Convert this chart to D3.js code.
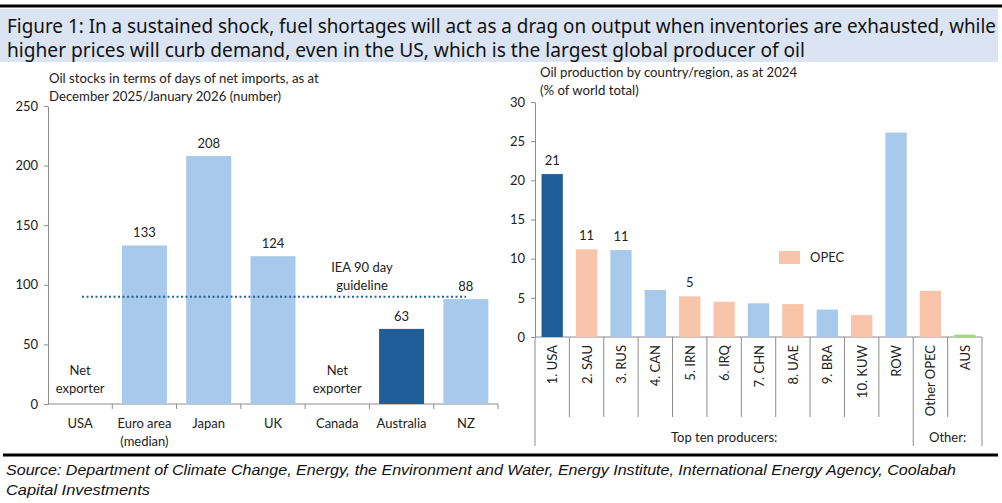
<!DOCTYPE html>
<html>
<head>
<meta charset="utf-8">
<script src="https://d3js.org/d3.v7.min.js"></script>
<style>
  body { margin: 0; background: #fff; }
  text { font-family: Lato, "Open Sans", sans-serif; fill: #222; }
</style>
</head>
<body>
<div id="chart"></div>
<script>
// Left panel: oil stocks in days of net imports
const stockCats = ["USA", "Euro area|(median)", "Japan", "UK", "Canada", "Australia", "NZ"];
const stockValues = [null, 133, 208, 124, null, 63, 88];
const stockKind = ["none", "light", "light", "light", "none", "dark", "light"];
const stockTicks = [0, 50, 100, 150, 200, 250];
const ieaGuideline = 90;

// Right panel: oil production share of world total
const prodCats = ["1. USA", "2. SAU", "3. RUS", "4. CAN", "5. IRN", "6. IRQ", "7. CHN", "8. UAE", "9. BRA", "10. KUW", "ROW", "Other OPEC", "AUS"];
const prodValues = [20.8, 11.2, 11.1, 6.0, 5.2, 4.5, 4.3, 4.2, 3.5, 2.8, 26.1, 5.9, 0.3];
const prodKind = ["dark", "opec", "light", "light", "opec", "opec", "light", "opec", "light", "opec", "light", "opec", "green"];
const prodLabels = ["21", "11", "11", null, "5", null, null, null, null, null, null, null, null];
const prodTicks = [0, 5, 10, 15, 20, 25, 30];
const prodGroups = [{ name: "Top ten producers:", from: 0, to: 11 }, { name: "Other:", from: 11, to: 13 }];

const colors = { light: "#a7c9eb", dark: "#215d99", opec: "#f8c5aa", green: "#9fd67f" };

const svg = d3.select("#chart").append("svg")
    .attr("width", 1002).attr("height", 503);

//Title band
svg.append("rect").attr("x", 0).attr("y", 9).attr("width", 998).attr("height", 53).attr("fill", "#dbe4f3");
svg.append("line").attr("x1", 0).attr("x2", 1002).attr("y1", 6).attr("y2", 6).attr("stroke", "#000").attr("stroke-width", 3);
const titleLines = ["Figure 1: In a sustained shock, fuel shortages will act as a drag on output when inventories are exhausted, while",
                    "higher prices will curb demand, even in the US, which is the largest global producer of oil"];
const titleWidths = [989, 798];
titleLines.forEach((t, i) => {
    svg.append("text").attr("x", 7).attr("y", 33 + i * 24).text(t)
        .attr("textLength", titleWidths[i]).attr("lengthAdjust", "spacingAndGlyphs")
        .style("font-family", "'Noto Sans', sans-serif").style("font-size", "19px").style("fill", "#111");
});

//Bottom rule and source
svg.append("line").attr("x1", 3).attr("x2", 998).attr("y1", 455).attr("y2", 455).attr("stroke", "#000").attr("stroke-width", 3);
const sourceLines = ["Source: Department of Climate Change, Energy, the Environment and Water, Energy Institute, International Energy Agency, Coolabah",
                     "Capital Investments"];
const sourceWidths = [950, 144];
sourceLines.forEach((t, i) => {
    svg.append("text").attr("x", 6).attr("y", 475 + i * 20).text(t)
        .attr("textLength", sourceWidths[i]).attr("lengthAdjust", "spacingAndGlyphs")
        .style("font-family", "'Liberation Sans Narrow', 'Liberation Sans', sans-serif")
        .style("font-style", "italic").style("font-size", "15.5px").style("fill", "#111");
});

const axisGrey = "#8c8c8c";

// ---------- Left panel ----------
const xL = d3.scaleBand().domain(stockCats).range([48, 498]);
const yL = d3.scaleLinear().domain([0, 250]).range([404, 106]);

svg.append("text").attr("x", 49).attr("y", 83).text("Oil stocks in terms of days of net imports, as at").style("font-size", "13.2px");
svg.append("text").attr("x", 49).attr("y", 101).text("December 2025/January 2026 (number)").style("font-size", "13.2px");

const yAxisL = svg.append("g").attr("transform", "translate(48,0)")
    .call(d3.axisLeft(yL).tickValues(stockTicks).tickSize(4).tickSizeOuter(0));
yAxisL.selectAll("text").style("font-size", "13px").attr("x", -10);

// x axis line and boundary ticks
svg.append("line").attr("x1", 48).attr("x2", 498).attr("y1", yL(0)).attr("y2", yL(0)).attr("stroke", axisGrey);
svg.selectAll(".tickL").data(stockCats).enter().append("line")
    .attr("x1", d => xL(d) + xL.bandwidth()).attr("x2", d => xL(d) + xL.bandwidth())
    .attr("y1", yL(0)).attr("y2", yL(0) + 5).attr("stroke", axisGrey);

const barW = xL.bandwidth() * 0.7;
const stockData = stockCats.map((c, i) => ({ c, v: stockValues[i], k: stockKind[i] })).filter(d => d.v !== null);
svg.selectAll(".barL").data(stockData).enter().append("rect")
    .attr("x", d => xL(d.c) + (xL.bandwidth() - barW) / 2)
    .attr("y", d => yL(d.v))
    .attr("width", barW)
    .attr("height", d => yL(0) - yL(d.v))
    .attr("fill", d => colors[d.k]);
svg.selectAll(".lblL").data(stockData).enter().append("text")
    .attr("x", d => xL(d.c) + xL.bandwidth() / 2)
    .attr("y", d => yL(d.v) - 8)
    .attr("text-anchor", "middle").style("font-size", "13px").text(d => d.v);

// category labels
stockCats.forEach(c => {
    c.split("|").forEach((t, j) => {
        svg.append("text").attr("x", xL(c) + xL.bandwidth() / 2).attr("y", 428 + j * 18)
            .attr("text-anchor", "middle").style("font-size", "13px").text(t);
    });
});

// net exporter notes
stockCats.forEach((c, i) => {
    if (stockValues[i] === null) {
        ["Net", "exporter"].forEach((t, j) => {
            svg.append("text").attr("x", xL(c) + xL.bandwidth() / 2).attr("y", 375 + j * 18)
                .attr("text-anchor", "middle").style("font-size", "13px").text(t);
        });
    }
});

// IEA guideline
svg.append("line").attr("x1", 82).attr("x2", 466).attr("y1", yL(ieaGuideline)).attr("y2", yL(ieaGuideline))
    .attr("stroke", "#24609e").attr("stroke-width", 2).attr("stroke-dasharray", "2,2.5");
svg.append("text").attr("x", 362).attr("y", 272).attr("text-anchor", "middle").style("font-size", "13px").text("IEA 90 day");
svg.append("text").attr("x", 362).attr("y", 290).attr("text-anchor", "middle").style("font-size", "13px").text("guideline");

// ---------- Right panel ----------
const xR = d3.scaleBand().domain(prodCats).range([535, 982]);
const yR = d3.scaleLinear().domain([0, 30]).range([337, 102]);

svg.append("text").attr("x", 540).attr("y", 77).text("Oil production by country/region, as at 2024").style("font-size", "13.2px");
svg.append("text").attr("x", 540).attr("y", 95).text("(% of world total)").style("font-size", "13.2px");

const yAxisR = svg.append("g").attr("transform", "translate(535,0)")
    .call(d3.axisLeft(yR).tickValues(prodTicks).tickSize(4).tickSizeOuter(0));
yAxisR.selectAll("text").style("font-size", "13px").attr("x", -10);

svg.append("line").attr("x1", 535).attr("x2", 982).attr("y1", yR(0)).attr("y2", yR(0)).attr("stroke", axisGrey);

// category boundaries: short inside groups, long at group edges
const groupEdges = new Set(prodGroups.flatMap(g => [g.from, g.to]));
d3.range(prodCats.length + 1).forEach(i => {
    const xx = i < prodCats.length ? xR(prodCats[i]) : xR(prodCats[i - 1]) + xR.bandwidth();
    svg.append("line").attr("x1", xx).attr("x2", xx)
        .attr("y1", yR(0)).attr("y2", groupEdges.has(i) ? 446 : 417)
        .attr("stroke", axisGrey);
});

const barWR = xR.bandwidth() * 0.62;
const prodData = prodCats.map((c, i) => ({ c, v: prodValues[i], k: prodKind[i], l: prodLabels[i] }));
svg.selectAll(".barR").data(prodData).enter().append("rect")
    .attr("x", d => xR(d.c) + (xR.bandwidth() - barWR) / 2)
    .attr("y", d => yR(d.v))
    .attr("width", barWR)
    .attr("height", d => yR(0) - yR(d.v))
    .attr("fill", d => colors[d.k]);
svg.selectAll(".lblR").data(prodData.filter(d => d.l)).enter().append("text")
    .attr("x", d => xR(d.c) + xR.bandwidth() / 2)
    .attr("y", d => yR(d.v) - 9)
    .attr("text-anchor", "middle").style("font-size", "13px").text(d => d.l);

// rotated category labels
svg.selectAll(".catR").data(prodCats).enter().append("text")
    .attr("transform", d => `translate(${xR(d) + xR.bandwidth() / 2 + 5},345) rotate(-90)`)
    .attr("text-anchor", "end").style("font-size", "13px").text(d => d);

// group labels
prodGroups.forEach(g => {
    const x0 = xR(prodCats[g.from]);
    const x1 = xR(prodCats[g.to - 1]) + xR.bandwidth();
    svg.append("text").attr("x", (x0 + x1) / 2).attr("y", 442)
        .attr("text-anchor", "middle").style("font-size", "13px").text(g.name);
});

// legend
svg.append("rect").attr("x", 779).attr("y", 251).attr("width", 21).attr("height", 13).attr("fill", colors.opec);
svg.append("text").attr("x", 810).attr("y", 262).style("font-size", "13px").text("OPEC");

// axis colours
svg.selectAll(".domain, .tick line").attr("stroke", axisGrey);
</script>
</body>
</html>
